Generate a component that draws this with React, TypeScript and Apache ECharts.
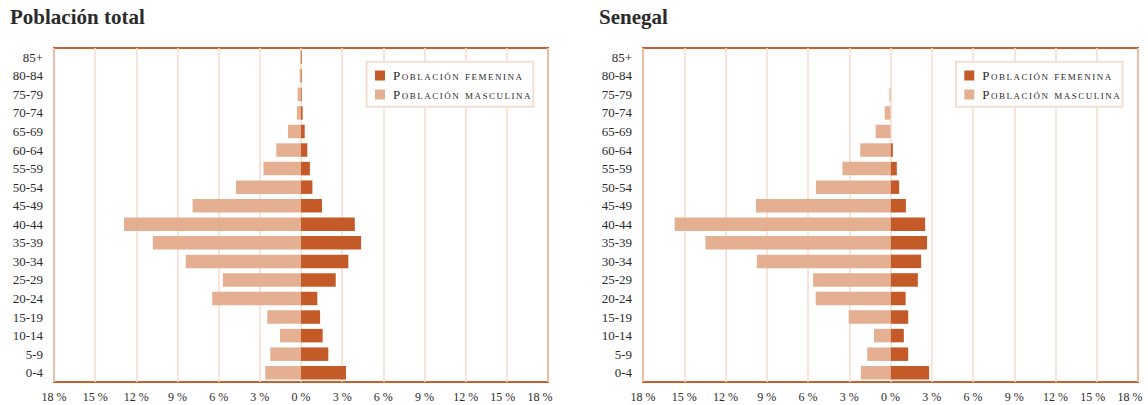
import React, { useEffect, useRef } from "react";
import * as echarts from "echarts";

const categories = ["0-4","5-9","10-14","15-19","20-24","25-29","30-34","35-39","40-44","45-49","50-54","55-59","60-64","65-69","70-74","75-79","80-84","85+"];
const totalMale = [2.6, 2.24, 1.53, 2.46, 6.47, 5.7, 8.4, 10.8, 12.9, 7.9, 4.74, 2.73, 1.8, 0.95, 0.3, 0.25, 0.1, 0.05];
const totalFemale = [3.28, 1.99, 1.58, 1.39, 1.19, 2.53, 3.45, 4.38, 3.92, 1.53, 0.83, 0.65, 0.46, 0.27, 0.12, 0.05, 0.05, 0.05];
const senegalMale = [2.15, 1.69, 1.2, 3.04, 5.44, 5.64, 9.72, 13.46, 15.7, 9.78, 5.42, 3.5, 2.2, 1.08, 0.42, 0.08, 0, 0];
const senegalFemale = [2.81, 1.29, 0.97, 1.29, 1.1, 1.99, 2.23, 2.66, 2.52, 1.12, 0.63, 0.46, 0.17, 0, 0, 0, 0, 0];
const titles = ["Población total", "Senegal"];
const seriesNames = ["Población femenina", "Población masculina"];

const FEMALE = "#C45A28";
const MALE = "#E4B091";
const BORDER = "#C95F2C";
const GRIDLINE = "#F4DDCF";
const TEXT = "#2b2b2b";
const SERIF = "Liberation Serif";
const SMALLCAPS = "Liberation Serif;font-variant:small-caps;letter-spacing:1.5px";

export default function App() {
  const ref = useRef<HTMLDivElement>(null);
  useEffect(() => {
    document.body.style.margin = "0";
    const chart = echarts.init(ref.current!, null, { renderer: "svg" });
    const grids = [
      { left: 54, top: 48, width: 494, height: 334 },
      { left: 643, top: 48, width: 495, height: 334 },
    ];
    const data = [
      { male: totalMale, female: totalFemale },
      { male: senegalMale, female: senegalFemale },
    ];
    const legendBoxes = [366.7, 956];
    const legendTops = [65, 84];
    const labelFont = { fontFamily: SERIF, fontSize: 12, color: TEXT };
    const option: any = {
      animation: false,
      backgroundColor: "#fff",
      title: titles.map((t, i) => ({
        text: t,
        left: i === 0 ? 10 : 599,
        top: 6,
        padding: 0,
        textStyle: { fontFamily: SERIF, fontSize: 21, fontWeight: "bold", color: TEXT },
      })),
      grid: grids.map((g) => ({
        ...g,
        show: true,
        borderColor: BORDER,
        borderWidth: 2,
        backgroundColor: "#fff",
        containLabel: false,
        outerBoundsMode: "none",
      })),
      xAxis: grids.map((_, i) => ({
        type: "value",
        gridIndex: i,
        min: -18,
        max: 18,
        interval: 3,
        axisLine: { show: false },
        axisTick: { show: false },
        splitLine: { show: true, lineStyle: { color: GRIDLINE, width: 1.5 } },
        axisLabel: {
          formatter: (v: number) => {
            const s = Math.abs(v) + " %";
            if (v === 18) return "{e|" + s + "}";
            if (v === 15) return "{f|" + s + "}";
            return s;
          },
          ...labelFont,
          margin: 9,
          rich: {
            e: { ...labelFont, padding: [0, 16, 0, 0] },
            f: { ...labelFont, padding: [0, 8, 0, 0] },
          },
        },
      })),
      yAxis: grids.map((_, i) => ({
        type: "category",
        gridIndex: i,
        data: categories,
        axisLine: { show: false },
        axisTick: { show: false },
        splitLine: { show: false },
        axisLabel: { fontFamily: SERIF, fontSize: 13, color: TEXT, margin: 11 },
      })),
      legend: legendBoxes.flatMap((x) =>
        seriesNames.map((name, j) => ({
          left: x + 8.3,
          top: legendTops[j],
          orient: "vertical",
          data: [name],
          itemWidth: 10,
          itemHeight: 10,
          icon: "rect",
          padding: 0,
          z: 10,
          selectedMode: false,
          textStyle: { fontFamily: SMALLCAPS, fontSize: 13, color: TEXT, padding: [0, 0, 0, 3] },
        }))
      ),
      graphic: legendBoxes.map((x) => ({
        type: "rect",
        z: 5,
        shape: { x: x, y: 61.7, width: 166.6, height: 45 },
        style: { fill: "#fff", stroke: "#F3DFD2", lineWidth: 2 },
      })),
      series: data.flatMap((d, i) => [
        {
          name: seriesNames[0],
          type: "bar",
          xAxisIndex: i,
          yAxisIndex: i,
          stack: "s" + i,
          barWidth: 13.5,
          itemStyle: { color: FEMALE },
          data: d.female,
        },
        {
          name: seriesNames[1],
          type: "bar",
          xAxisIndex: i,
          yAxisIndex: i,
          stack: "s" + i,
          barWidth: 13.5,
          itemStyle: { color: MALE },
          data: d.male.map((v) => -v),
        },
      ]),
    };
    chart.setOption(option);
    return () => chart.dispose();
  }, []);
  return <div ref={ref} style={{ width: 1148, height: 405 }} />;
}
